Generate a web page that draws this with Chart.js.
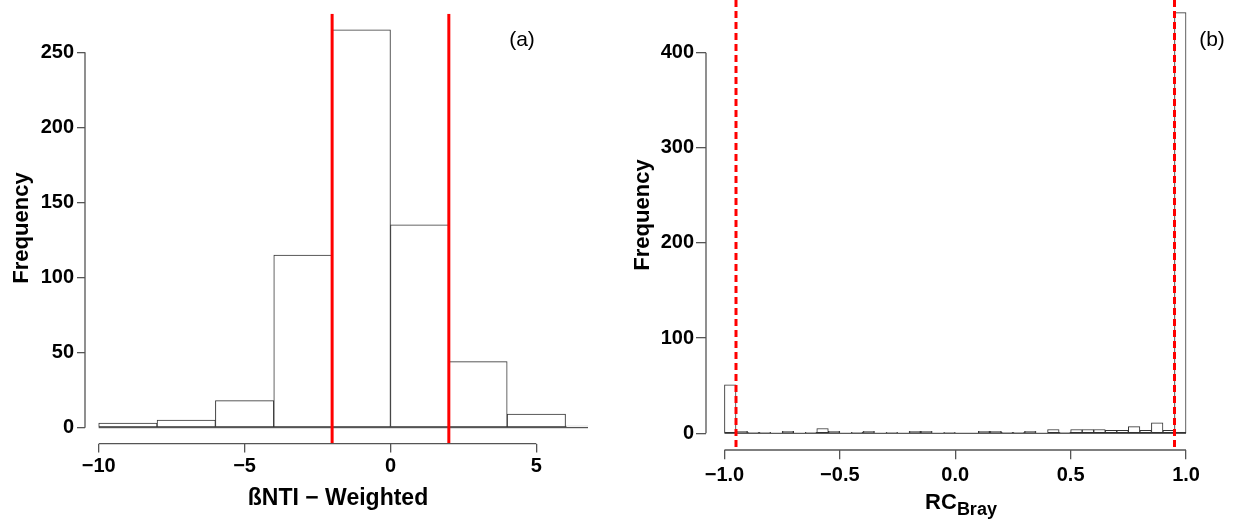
<!DOCTYPE html>
<html>
<head>
<meta charset="utf-8">
<script src="https://cdn.jsdelivr.net/npm/chart.js@4.4.0/dist/chart.umd.min.js"></script>
<style>
  html, body { margin: 0; padding: 0; background: #fff; }
  #wrap { position: relative; width: 1238px; height: 523px; }
  canvas { position: absolute; left: 0; top: 0; }
</style>
</head>
<body>
<div id="wrap">
  <canvas id="chartA" width="1238" height="523"></canvas>
  <canvas id="chartB" width="1238" height="523"></canvas>
</div>
<script>
// (a) betaNTI histogram, bins of width 2
var binStartA = [-10, -8, -6, -4, -2, 0, 2, 4, 6];
var countsA = [3, 5, 18, 115, 265, 135, 44, 9, 1];
var binWidthA = 2;
var cutsA = [-2, 2];
var xTicksA = [-10, -5, 0, 5];
var yTicksA = [0, 50, 100, 150, 200, 250];

// (b) RC bray histogram, bins of width 0.05
var binStartB = [-1.00, -0.95, -0.90, -0.85, -0.80, -0.75, -0.70, -0.65, -0.60, -0.55,
                 -0.50, -0.45, -0.40, -0.35, -0.30, -0.25, -0.20, -0.15, -0.10, -0.05,
                  0.00,  0.05,  0.10,  0.15,  0.20,  0.25,  0.30,  0.35,  0.40,  0.45,
                  0.50,  0.55,  0.60,  0.65,  0.70,  0.75,  0.80,  0.85,  0.90,  0.95];
var countsB = [51, 2, 1, 1, 0, 2, 0, 1, 5, 2,
               0, 1, 2, 0, 1, 0, 2, 2, 0, 1,
               0, 0, 2, 2, 1, 1, 2, 0, 4, 1,
               4, 4, 4, 3, 3, 7, 3, 11, 3, 442];
var binWidthB = 0.05;
var cutsB = [-0.95, 0.95];
var xTicksB = [-1, -0.5, 0, 0.5, 1];
var yTicksB = [0, 100, 200, 300, 400];

var FONT = "'Liberation Sans', Arial, sans-serif";
var axisColor = '#555';

function minus(s) { return String(s).replace('-', '\u2212'); }

function decor(cfg) {
  return {
    id: 'decor',
    afterDatasetsDraw: function (chart) {
      var ctx = chart.ctx, x = chart.scales.x, y = chart.scales.y, a = chart.chartArea;
      var y0 = y.getPixelForValue(0);
      ctx.save();
      ctx.beginPath();
      ctx.rect(a.left, a.top, a.right - a.left, a.bottom - a.top);
      ctx.clip();
      // baseline under the bars
      ctx.strokeStyle = '#333';
      ctx.lineWidth = 1;
      ctx.beginPath();
      ctx.moveTo(x.getPixelForValue(cfg.starts[0]), y0);
      ctx.lineTo(x.getPixelForValue(cfg.starts[cfg.starts.length - 1] + cfg.width), y0);
      ctx.stroke();
      // red cut-off lines
      ctx.strokeStyle = '#ff0000';
      ctx.lineWidth = 3;
      ctx.setLineDash(cfg.dash);
      cfg.cuts.forEach(function (c) {
        var px = x.getPixelForValue(c);
        ctx.beginPath();
        ctx.moveTo(px, a.top);
        ctx.lineTo(px, a.bottom);
        ctx.stroke();
      });
      ctx.restore();

      // R style axis lines, from first to last tick
      ctx.save();
      ctx.strokeStyle = axisColor;
      ctx.lineWidth = 1.3;
      ctx.beginPath();
      ctx.moveTo(a.left, y.getPixelForValue(cfg.yTicks[0]));
      ctx.lineTo(a.left, y.getPixelForValue(cfg.yTicks[cfg.yTicks.length - 1]));
      ctx.moveTo(x.getPixelForValue(cfg.xTicks[0]), a.bottom);
      ctx.lineTo(x.getPixelForValue(cfg.xTicks[cfg.xTicks.length - 1]), a.bottom);
      ctx.stroke();
      ctx.restore();
    },
    afterDraw: function (chart) {
      var ctx = chart.ctx;
      ctx.save();
      ctx.fillStyle = '#000';
      // y title
      ctx.save();
      ctx.translate(cfg.yTitle.x, cfg.yTitle.y);
      ctx.rotate(-Math.PI / 2);
      ctx.font = 'bold 22px ' + FONT;
      ctx.textAlign = 'center';
      ctx.textBaseline = 'middle';
      ctx.fillText('Frequency', 0, 0);
      ctx.restore();
      // x title
      cfg.xTitle(ctx);
      // panel letter
      ctx.font = '21px ' + FONT;
      ctx.textAlign = 'center';
      ctx.textBaseline = 'middle';
      ctx.fillText(cfg.tag.text, cfg.tag.x, cfg.tag.y);
      ctx.restore();
    }
  };
}

function histChart(id, cfg) {
  var data = cfg.starts.map(function (s, i) {
    return { x: s + cfg.width / 2, y: cfg.counts[i] };
  });
  var tickFont = { family: FONT, size: 20, weight: 'bold' };
  return new Chart(document.getElementById(id), {
    type: 'bar',
    data: {
      datasets: [{
        data: data,
        backgroundColor: '#fff',
        borderColor: '#333',
        borderWidth: 1,
        borderSkipped: false,
        barPercentage: 1,
        categoryPercentage: 1
      }]
    },
    options: {
      responsive: false,
      animation: false,
      events: [],
      layout: { autoPadding: false, padding: cfg.padding },
      plugins: { legend: { display: false }, tooltip: { enabled: false } },
      scales: {
        x: {
          type: 'linear',
          min: cfg.xMin, max: cfg.xMax,
          offset: false,
          bounds: 'data',
          border: { display: false },
          grid: { offset: false, drawOnChartArea: false, color: axisColor, lineWidth: 1.3, tickLength: cfg.xTickLen },
          afterBuildTicks: function (s) { s.ticks = cfg.xTicks.map(function (v) { return { value: v }; }); },
          afterFit: function (s) {
            s.height = cfg.xHeight;
            s.paddingLeft = 0; s.paddingRight = 0;
          },
          ticks: {
            autoSkip: false, maxRotation: 0, padding: cfg.xPad, color: '#000', font: tickFont,
            callback: cfg.xFmt
          }
        },
        y: {
          min: cfg.yMin, max: cfg.yMax,
          bounds: 'data',
          border: { display: false },
          grid: { drawOnChartArea: false, color: axisColor, lineWidth: 1.3, tickLength: cfg.yTickLen },
          afterBuildTicks: function (s) { s.ticks = cfg.yTicks.map(function (v) { return { value: v }; }); },
          afterFit: function (s) {
            s.width = cfg.yWidth;
            s.paddingTop = 0; s.paddingBottom = 0;
          },
          ticks: { autoSkip: false, padding: cfg.yPad, color: '#000', font: tickFont }
        }
      }
    },
    plugins: [decor(cfg)]
  });
}

histChart('chartA', {
  starts: binStartA, counts: countsA, width: binWidthA, cuts: cutsA, dash: [],
  xTicks: xTicksA, yTicks: yTicksA,
  xMin: -10.47, xMax: 6.77, yMin: -10.6, yMax: 275.6,
  padding: { left: 0, top: 13.8, right: 650, bottom: 0 },
  yWidth: 85, xHeight: 79.4,
  xTickLen: 9, yTickLen: 8, xPad: 2, yPad: 3,
  xFmt: function (v) { return minus(v); },
  yTitle: { x: 22, y: 228 },
  xTitle: function (ctx) {
    ctx.font = 'bold 23px ' + FONT;
    ctx.textAlign = 'center';
    ctx.textBaseline = 'alphabetic';
    ctx.fillText('\u00dfNTI \u2212 Weighted', 338, 505);
  },
  tag: { text: '(a)', x: 522, y: 40 }
});

histChart('chartB', {
  starts: binStartB, counts: countsB, width: binWidthB, cuts: cutsB, dash: [7, 4],
  xTicks: xTicksB, yTicks: yTicksB,
  xMin: -1.08, xMax: 1.08, yMin: -17.55, yMax: 455.3,
  padding: { left: 0, top: 0, right: 33.5, bottom: 0 },
  yWidth: 706, xHeight: 73,
  xTickLen: 9.3, yTickLen: 10, xPad: 4, yPad: 2,
  xFmt: function (v) { return minus(Number(v).toFixed(1)); },
  yTitle: { x: 643, y: 215 },
  xTitle: function (ctx) {
    ctx.textBaseline = 'alphabetic';
    ctx.textAlign = 'left';
    ctx.font = 'bold 22px ' + FONT;
    var w1 = ctx.measureText('RC').width;
    ctx.font = 'bold 18px ' + FONT;
    var w2 = ctx.measureText('Bray').width;
    var x0 = 961 - (w1 + w2) / 2;
    ctx.font = 'bold 22px ' + FONT;
    ctx.fillText('RC', x0, 509);
    ctx.font = 'bold 18px ' + FONT;
    ctx.fillText('Bray', x0 + w1, 515);
  },
  tag: { text: '(b)', x: 1212, y: 40 }
});
</script>
</body>
</html>
